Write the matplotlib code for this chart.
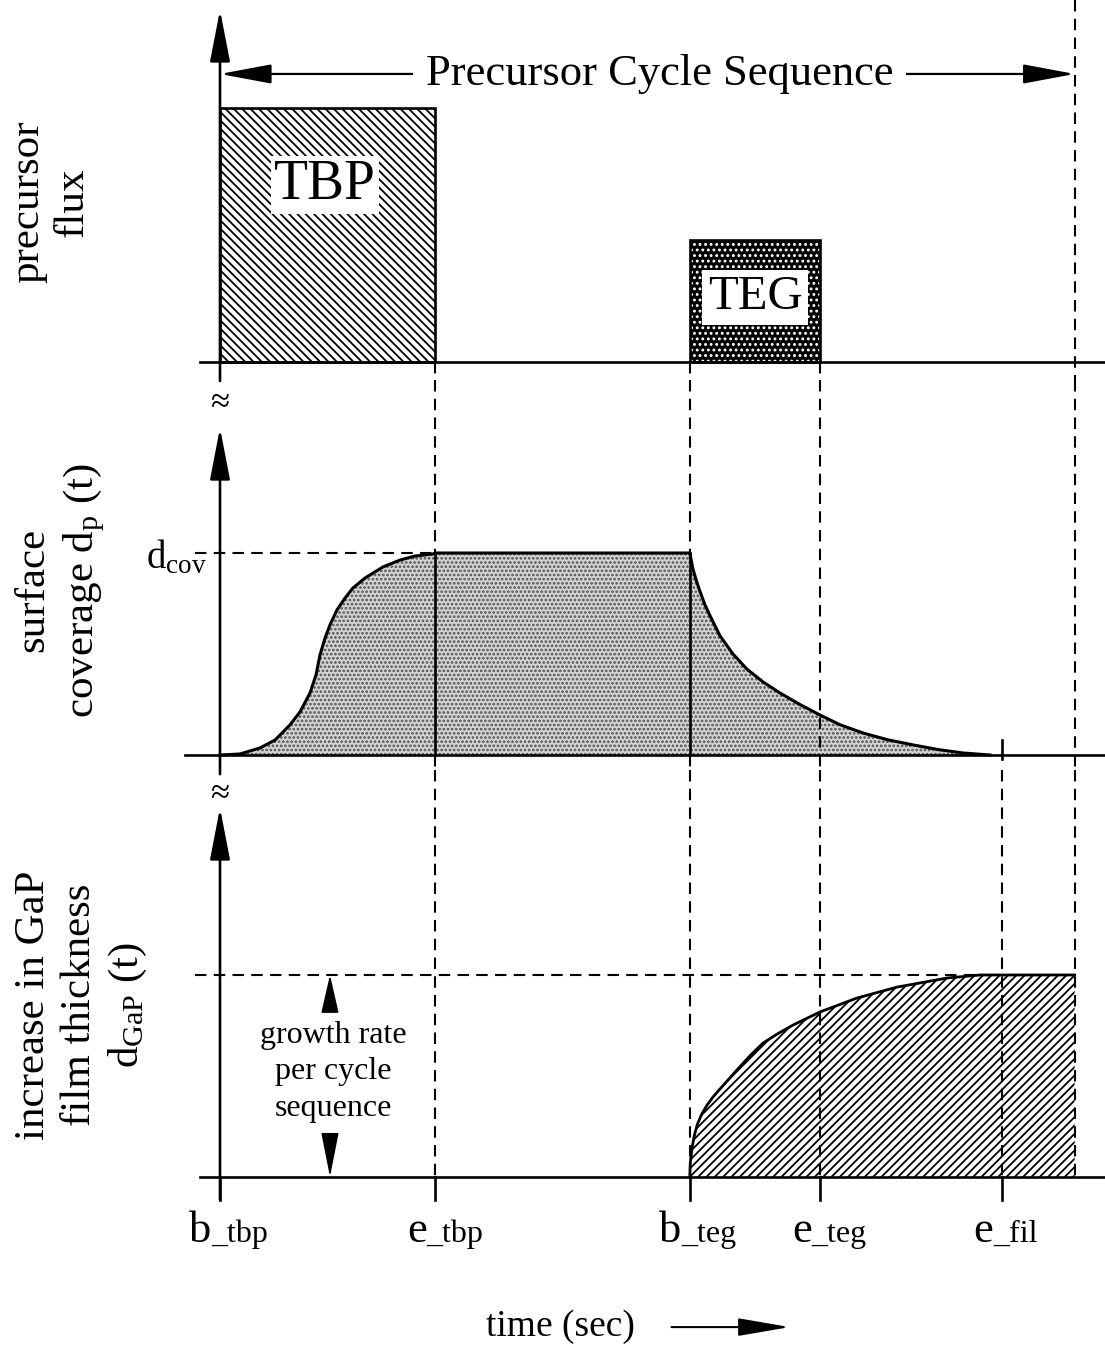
import matplotlib
matplotlib.use('Agg')
import matplotlib.pyplot as plt

plt.rcParams['font.family'] = ['Liberation Serif', 'DejaVu Serif']
plt.rcParams['mathtext.fontset'] = 'custom'
plt.rcParams['mathtext.rm'] = 'Liberation Serif'
plt.rcParams['mathtext.it'] = 'Liberation Serif:italic'
plt.rcParams['hatch.linewidth'] = 1.3

# ---------------- data ----------------
event_names = ['b_tbp', 'e_tbp', 'b_teg', 'e_teg', 'e_fil']
event_times = [0.0, 2.0, 4.37, 5.58, 7.27]
t_end = 7.95

flux_labels = ['TBP', 'TEG']
flux_start = [0.0, 4.37]
flux_stop = [2.0, 5.58]
flux_height = [1.0, 0.48]

cov_t = [0.0, 0.186, 0.372, 0.512, 0.651, 0.744, 0.837, 0.893, 0.930, 0.977,
         1.023, 1.088, 1.163, 1.237, 1.349, 1.516, 1.674, 1.814, 1.981, 2.0,
         4.37, 4.40, 4.43, 4.465, 4.51, 4.558, 4.651, 4.772, 4.902, 5.051,
         5.209, 5.395, 5.581, 5.767, 5.981, 6.214, 6.447, 6.679, 6.912, 7.163]
cov_v = [0.0, 0.005, 0.035, 0.074, 0.149, 0.213, 0.307, 0.396, 0.495, 0.579,
         0.644, 0.718, 0.777, 0.827, 0.876, 0.931, 0.965, 0.985, 0.995, 1.0,
         1.0, 0.92, 0.865, 0.81, 0.745, 0.69, 0.59, 0.50, 0.425, 0.362,
         0.307, 0.25, 0.198, 0.15, 0.109, 0.075, 0.05, 0.027, 0.01, 0.0]

gap_t = [4.37, 4.375, 4.39, 4.41, 4.44, 4.48, 4.53, 4.586, 4.645, 4.70, 4.809,
         4.93, 5.051, 5.19, 5.33, 5.581, 5.926, 6.298, 6.763, 7.07, 7.95]
gap_v = [0.0, 0.07, 0.14, 0.2, 0.26, 0.31, 0.355, 0.396, 0.432, 0.465, 0.53,
         0.6, 0.663, 0.71, 0.752, 0.817, 0.886, 0.94, 0.985, 1.0, 1.0]

# ---------------- layout ----------------
W, H = 1105, 1348
fig = plt.figure(figsize=(W / 100, H / 100), dpi=100)
PX = 107.5   # pixels per time unit
X0 = 220     # pixel column of t = 0


def add_panel(top_px, bot_px, base_px, unit_px):
    ax = fig.add_axes([0, 1 - bot_px / H, 1, (bot_px - top_px) / H])
    ax.set_xlim(-X0 / PX, (W - X0) / PX)
    ax.set_ylim(-(bot_px - base_px) / unit_px, (base_px - top_px) / unit_px)
    ax.axis('off')
    return ax


ax1 = add_panel(0, 380, 362, 254)
ax2 = add_panel(380, 770, 755, 202)
ax3 = add_panel(770, 1348, 1177, 202)

LW = 1.9
DLW = 1.5
DASH = (5.5, 3.5)
FS = 31


def vaxis(ax, tip, bottom):
    ax.annotate('', xy=(0, tip), xytext=(0, bottom),
                arrowprops=dict(arrowstyle='-|>,head_length=3.2,head_width=0.62',
                                mutation_scale=10, lw=LW, color='black',
                                shrinkA=0, shrinkB=0),
                annotation_clip=False)


def dashed_v(ax, x, y0, y1, z=1):
    ax.plot([x, x], [y0, y1], color='black', lw=DLW, dashes=DASH,
            clip_on=False, zorder=z)


def solid_v(ax, x, y0, y1, z=4):
    ax.plot([x, x], [y0, y1], color='black', lw=LW, clip_on=False, zorder=z)


# ---------------- top panel: precursor flux ----------------
y1lo, y1hi = ax1.get_ylim()
ax1.plot([-0.186, 8.233], [0, 0], color='black', lw=LW, zorder=5)
vaxis(ax1, 1.386, -0.075)

hatches = ['\\\\\\\\', '...']
faces = ['white', 'black']
edges = ['black', 'white']
for lab, s, e, h, ht, fc, ec in zip(flux_labels, flux_start, flux_stop,
                                    flux_height, hatches, faces, edges):
    ax1.bar(s, h, width=e - s, align='edge', facecolor=fc, edgecolor=ec,
            hatch=ht, linewidth=0, zorder=2)
    ax1.bar(s, h, width=e - s, align='edge', facecolor='none',
            edgecolor='black', linewidth=LW, zorder=3)

ax1.text(0.977, 0.697, flux_labels[0], fontsize=40, ha='center', va='center',
         zorder=4, bbox=dict(facecolor='white', edgecolor='none', pad=2))
ax1.text(4.977, 0.255, flux_labels[1], fontsize=35, ha='center', va='center',
         zorder=4, bbox=dict(facecolor='white', edgecolor='none', pad=4))

# Precursor cycle sequence arrow
ax1.annotate('', xy=(0, 1.134), xytext=(t_end, 1.134),
             arrowprops=dict(arrowstyle='<|-|>,head_length=3.2,head_width=0.6',
                             mutation_scale=10, lw=1.6, color='black',
                             shrinkA=0, shrinkB=0),
             annotation_clip=False, zorder=3)
ax1.text(4.09, 1.134, 'Precursor Cycle Sequence', fontsize=32, ha='center',
         va='center', zorder=4,
         bbox=dict(facecolor='white', edgecolor='none', pad=9))

# vertical guides in top panel
for t in event_times[1:4]:
    dashed_v(ax1, t, 0, y1lo)
dashed_v(ax1, t_end, y1hi, y1lo)

# ---------------- middle panel: surface coverage ----------------
y2lo, y2hi = ax2.get_ylim()
ax2.plot([-0.33, 8.233], [0, 0], color='black', lw=LW, zorder=5)
vaxis(ax2, 1.619, -0.095)
ax2.text(0, 1.745, '\u2248', fontsize=25, ha='center', va='center')

ax2.fill_between(cov_t, cov_v, 0, facecolor='#d4d4d4', edgecolor='#505050',
                 hatch='....', linewidth=0, zorder=2)
ax2.plot(cov_t, cov_v, color='black', lw=2.2, zorder=4)

ax2.plot([-0.23, event_times[1]], [1.0, 1.0], color='black', lw=DLW,
         dashes=DASH, zorder=1)
ax2.text(-0.12, 0.926, r'$\mathrm{d}_{\mathrm{cov}}$', fontsize=28,
         ha='right', va='baseline')

# guides
for t in event_times[1:3]:
    dashed_v(ax2, t, y2hi, 1.0)
    solid_v(ax2, t, 1.0, 0)
    dashed_v(ax2, t, 0, y2lo)
dashed_v(ax2, event_times[3], y2hi, y2lo, z=5)
solid_v(ax2, event_times[4], 0.075, -0.02)
dashed_v(ax2, t_end, y2hi, y2lo)

# ---------------- bottom panel: GaP thickness ----------------
ax3.plot([-0.186, 8.233], [0, 0], color='black', lw=LW, zorder=5)
vaxis(ax3, 1.827, -0.114)
ax3.text(0, 1.9, '\u2248', fontsize=25, ha='center', va='center')
y3lo, y3hi = ax3.get_ylim()

ax3.fill_between(gap_t, gap_v, 0, facecolor='white', edgecolor='black',
                 hatch='////', linewidth=0, zorder=2)
ax3.plot(gap_t, gap_v, color='black', lw=2.0, zorder=4)

ax3.plot([-0.23, event_times[4]], [1.0, 1.0], color='black', lw=DLW,
         dashes=DASH, zorder=1)

for t in event_times[1:]:
    dashed_v(ax3, t, y3hi, 0, z=3)
dashed_v(ax3, t_end, y3hi, 0, z=3)
for t in event_times:
    solid_v(ax3, t, 0, -0.114)

# growth-rate arrows
gx = 1.023
ax3.annotate('', xy=(gx, 1.0), xytext=(gx, 0.83),
             arrowprops=dict(arrowstyle='-|>,head_length=2.4,head_width=0.55',
                             mutation_scale=10, lw=1.2, color='black',
                             shrinkA=0, shrinkB=0))
ax3.annotate('', xy=(gx, 0.0), xytext=(gx, 0.2),
             arrowprops=dict(arrowstyle='-|>,head_length=2.8,head_width=0.55',
                             mutation_scale=10, lw=1.2, color='black',
                             shrinkA=0, shrinkB=0))
ax3.text(gx + 0.03, 0.52, 'growth rate\nper cycle\nsequence', fontsize=23,
         ha='center', va='center', linespacing=1.35)

# tick labels
for name, t in zip(event_names, event_times):
    head, tail = name[0], name[1:]
    ax3.annotate(head, xy=(t, -0.32), xytext=(-6, 0),
                 textcoords='offset points', fontsize=32, ha='right',
                 va='baseline', annotation_clip=False)
    ax3.annotate(tail, xy=(t, -0.32), xytext=(-6, 0),
                 textcoords='offset points', fontsize=23, ha='left',
                 va='baseline', annotation_clip=False)

# time axis label
ax3.text(3.17, -0.743, 'time (sec)', fontsize=27, ha='center', va='center')
ax3.annotate('', xy=(5.3, -0.743), xytext=(4.2, -0.743),
             arrowprops=dict(arrowstyle='-|>,head_length=3.2,head_width=0.55',
                             mutation_scale=10, lw=1.5, color='black',
                             shrinkA=0, shrinkB=0))

# ---------------- y labels ----------------
fig.text(50 / W, 1 - 202 / H, 'precursor\nflux', fontsize=FS, rotation=90,
         ha='center', va='center', multialignment='center', linespacing=1.2)
fig.text(60 / W, 1 - 590 / H, 'surface\ncoverage $\\mathrm{d}_{\\mathrm{p}}$ (t)',
         fontsize=FS, rotation=90, ha='center', va='center',
         multialignment='center', linespacing=1.3)
fig.text(82 / W, 1 - 1005 / H,
         'increase in GaP\nfilm thickness\n$\\mathrm{d}_{\\mathrm{GaP}}$ (t)',
         fontsize=FS, rotation=90, ha='center', va='center',
         multialignment='center', linespacing=1.25)

fig.savefig('out.png', dpi=100, facecolor='white')
